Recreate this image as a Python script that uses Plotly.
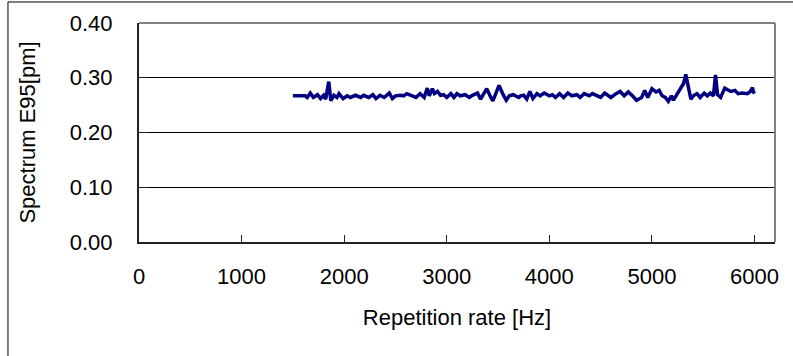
import plotly.graph_objects as go

# Repetition rate [Hz]
rep_rate = [1500, 1620, 1640, 1670, 1700, 1740, 1770, 1800, 1820, 1850, 1870, 1900, 1930, 1950, 1990,
            2030, 2060, 2110, 2160, 2190, 2240, 2280, 2310, 2350, 2390, 2440, 2470, 2500, 2550, 2580,
            2610, 2660, 2700, 2740, 2780, 2810, 2830, 2860, 2880, 2910, 2940, 2970, 3000, 3040, 3070,
            3100, 3130, 3180, 3220, 3250, 3300, 3330, 3370, 3390, 3430, 3450, 3480, 3510, 3550, 3580,
            3610, 3650, 3700, 3720, 3750, 3780, 3810, 3840, 3880, 3910, 3950, 4000, 4030, 4060, 4100,
            4140, 4180, 4220, 4270, 4300, 4340, 4390, 4420, 4460, 4500, 4540, 4570, 4600, 4650, 4690,
            4730, 4770, 4810, 4850, 4900, 4930, 4960, 5000, 5040, 5070, 5100, 5130, 5160, 5190, 5210,
            5250, 5290, 5310, 5330, 5360, 5380, 5410, 5440, 5470, 5510, 5540, 5570, 5600, 5620, 5640,
            5670, 5710, 5740, 5770, 5810, 5840, 5880, 5930, 5960, 5980, 5990, 6000]

# Spectrum E95 [pm]
e95 = [0.267, 0.267, 0.264, 0.272, 0.264, 0.269, 0.262, 0.268, 0.261, 0.293, 0.258, 0.268, 0.264, 0.271, 0.262,
       0.267, 0.264, 0.268, 0.264, 0.268, 0.264, 0.269, 0.262, 0.268, 0.264, 0.272, 0.262, 0.267, 0.268, 0.267,
       0.271, 0.267, 0.264, 0.271, 0.264, 0.281, 0.267, 0.280, 0.271, 0.275, 0.268, 0.269, 0.264, 0.271, 0.264,
       0.271, 0.267, 0.269, 0.264, 0.268, 0.272, 0.261, 0.275, 0.280, 0.264, 0.258, 0.272, 0.286, 0.269, 0.259,
       0.267, 0.269, 0.264, 0.267, 0.268, 0.261, 0.275, 0.262, 0.271, 0.267, 0.272, 0.267, 0.269, 0.264, 0.271,
       0.264, 0.272, 0.267, 0.269, 0.264, 0.271, 0.267, 0.271, 0.268, 0.264, 0.272, 0.267, 0.264, 0.271, 0.275,
       0.267, 0.274, 0.267, 0.259, 0.264, 0.277, 0.264, 0.280, 0.274, 0.277, 0.267, 0.264, 0.257, 0.267, 0.259,
       0.272, 0.284, 0.290, 0.306, 0.275, 0.261, 0.268, 0.271, 0.264, 0.272, 0.267, 0.272, 0.267, 0.305, 0.269,
       0.264, 0.281, 0.278, 0.275, 0.277, 0.271, 0.272, 0.271, 0.275, 0.282, 0.274, 0.271]

x_ticks = [0, 1000, 2000, 3000, 4000, 5000, 6000]
y_ticks = [0.0, 0.1, 0.2, 0.3, 0.4]

FONT = "Liberation Sans, Arial, sans-serif"

fig = go.Figure()
fig.add_trace(go.Scatter(x=rep_rate, y=e95, mode="lines",
                         line=dict(color="#000080", width=3.5), showlegend=False))

fig.update_layout(
    width=793, height=356,
    margin=dict(l=139, r=18, t=23, b=114),
    paper_bgcolor="white", plot_bgcolor="white",
    font=dict(family=FONT, size=22, color="black"),
    xaxis=dict(range=[0, 6200], tickvals=x_ticks, ticktext=[str(v) for v in x_ticks],
               ticks="inside", ticklen=7, tickwidth=1, tickcolor="#222",
               showline=True, linecolor="#222", linewidth=2, showgrid=False, zeroline=False,
               ticklabelstandoff=14,
               title=dict(text="Repetition rate [Hz]", standoff=21, font=dict(size=22))),
    yaxis=dict(range=[0, 0.4], tickvals=y_ticks, ticktext=["%.2f" % v for v in y_ticks],
               ticks="inside", ticklen=8, tickwidth=1, tickcolor="#222",
               showline=True, linecolor="#222", linewidth=2,
               showgrid=True, gridcolor="black", gridwidth=1, zeroline=False,
               ticklabelstandoff=20,
               title=dict(text="Spectrum E95[pm]", standoff=28, font=dict(size=22))),
    shapes=[
        dict(type="line", xref="paper", yref="paper", x0=0, x1=1, y0=1, y1=1,
             line=dict(color="#808080", width=2)),
        dict(type="line", xref="paper", yref="paper", x0=1, x1=1, y0=0, y1=1,
             line=dict(color="#808080", width=2)),
        dict(type="rect", xref="paper", yref="paper", x0=-0.206, x1=1.1, y0=-0.7, y1=1.096,
             line=dict(color="black", width=1), fillcolor="rgba(0,0,0,0)"),
    ],
)

fig.write_html("out.html")
